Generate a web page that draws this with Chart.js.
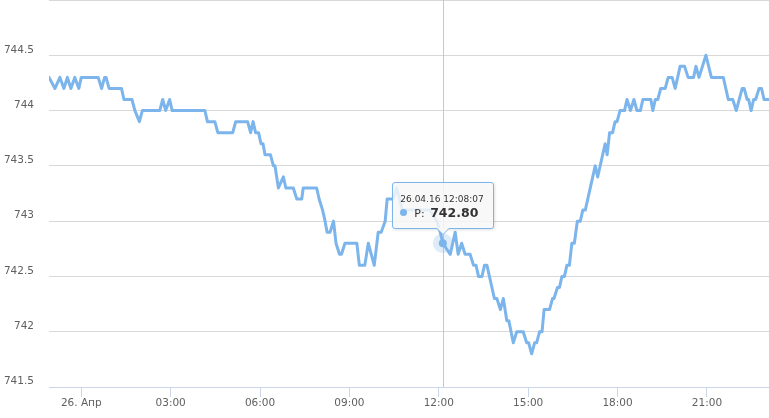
<!DOCTYPE html>
<html>
<head>
<meta charset="utf-8">
<script src="https://cdn.jsdelivr.net/npm/chart.js@4.4.1/dist/chart.umd.min.js"></script>
<style>
    html, body { margin: 0; padding: 0; background: #fff; }
    #wrap { position: relative; width: 769px; height: 418px; font-family: 'DejaVu Sans', sans-serif; }
    #tip {
        position: absolute;
        display: none;
        box-sizing: border-box;
        background: rgba(247, 247, 247, 0.85);
        border: 1px solid #7cb5ec;
        border-radius: 3px;
        padding: 10px 9px 6px 7px;
        box-shadow: 1px 1px 3px rgba(0, 0, 0, 0.12);
        color: #333;
        white-space: nowrap;
        pointer-events: none;
    }
    #tip::before {
        content: '';
        position: absolute;
        left: 50%;
        top: 100%;
        margin-left: -7px;
        border: 7px solid transparent;
        border-top-color: #7cb5ec;
        border-bottom: 0;
    }
    #tip::after {
        content: '';
        position: absolute;
        left: 50%;
        top: 100%;
        margin-left: -6px;
        border: 6px solid transparent;
        border-top-color: #f7f7f7;
        border-bottom: 0;
    }
    .tip-title { font-size: 9px; line-height: 12px; }
    .tip-body { font-size: 11px; line-height: 16px; }
    .tip-dot { display: inline-block; width: 7px; height: 7px; border-radius: 50%; background: #7cb5ec; margin-right: 7px; vertical-align: 1px; }
    .tip-value { font-weight: bold; font-size: 12.5px; margin-left: 2px; }
</style>
</head>
<body>
<div id="wrap">
    <canvas id="pressure-chart"></canvas>
    <div id="tip">
        <div class="tip-title"></div>
        <div class="tip-body"><span class="tip-dot"></span>P: <span class="tip-value"></span></div>
    </div>
</div>
<script>
// minutes from 26.04.16 00:00 (negative = evening of 25.04)
const times = [
    -65, -53, -43, -35, -28, -21, -13, -5, 0, 34, 41, 47, 50, 56, 81, 86, 102, 108, 117, 123,
    158, 164, 170, 178, 183, 249, 254, 269, 275, 305, 311, 335, 341, 346, 351, 357, 362, 366, 370, 381,
    387, 390, 397, 407, 412, 427, 434, 444, 447, 474, 479, 486, 491, 495, 501, 508, 513, 520, 524, 531,
    555, 560, 571, 578, 590, 598, 604, 612, 616, 628, 635, 641, 646, 702, 716, 723, 728.12, 743, 753, 759,
    766, 773, 783, 790, 795, 800, 807, 812, 817, 832, 837, 844, 850, 857, 861, 870, 877, 890, 897, 901,
    907, 913, 917, 923, 928, 932, 943, 949, 952, 959, 963, 968, 973, 978, 983, 988, 993, 999, 1005, 1010,
    1015, 1035, 1040, 1055, 1059, 1064, 1070, 1075, 1079, 1085, 1094, 1099, 1106, 1113, 1119, 1126, 1131, 1147, 1151, 1156,
    1161, 1167, 1176, 1182, 1190, 1196, 1206, 1215, 1222, 1233, 1238, 1244, 1258, 1269, 1293, 1303, 1312, 1319, 1331, 1335,
    1341, 1344, 1349, 1354, 1358, 1365, 1370, 1375, 1385,
];
const pressure = [
    744.3, 744.2, 744.3, 744.2, 744.3, 744.2, 744.3, 744.2, 744.3, 744.3, 744.2, 744.3, 744.3, 744.2, 744.2, 744.1, 744.1, 744.0, 743.9, 744.0,
    744.0, 744.1, 744.0, 744.1, 744.0, 744.0, 743.9, 743.9, 743.8, 743.8, 743.9, 743.9, 743.8, 743.9, 743.8, 743.8, 743.7, 743.7, 743.6, 743.6,
    743.5, 743.5, 743.3, 743.4, 743.3, 743.3, 743.2, 743.2, 743.3, 743.3, 743.2, 743.1, 743.0, 742.9, 742.9, 743.0, 742.8, 742.7, 742.7, 742.8,
    742.8, 742.6, 742.6, 742.8, 742.6, 742.9, 742.9, 743.0, 743.2, 743.2, 743.3, 743.2, 743.1, 743.1, 743.0, 742.9, 742.8, 742.7, 742.9, 742.7,
    742.8, 742.7, 742.7, 742.6, 742.6, 742.5, 742.5, 742.6, 742.6, 742.3, 742.3, 742.2, 742.3, 742.1, 742.1, 741.9, 742.0, 742.0, 741.9, 741.9,
    741.8, 741.9, 741.9, 742.0, 742.0, 742.2, 742.2, 742.3, 742.3, 742.4, 742.4, 742.5, 742.5, 742.6, 742.6, 742.8, 742.8, 743.0, 743.0, 743.1,
    743.1, 743.5, 743.4, 743.7, 743.6, 743.8, 743.8, 743.9, 743.9, 744.0, 744.0, 744.1, 744.0, 744.1, 744.0, 744.0, 744.1, 744.1, 744.0, 744.1,
    744.1, 744.2, 744.2, 744.3, 744.3, 744.2, 744.4, 744.4, 744.3, 744.3, 744.4, 744.3, 744.5, 744.3, 744.3, 744.1, 744.1, 744.0, 744.2, 744.2,
    744.1, 744.1, 744.0, 744.1, 744.1, 744.2, 744.2, 744.1, 744.1,
];
const tickTimes = [0, 180, 360, 540, 720, 900, 1080, 1260];
const tickLabels = ['26. Апр', '03:00', '06:00', '09:00', '12:00', '15:00', '18:00', '21:00'];
const yTicks = [741.5, 742, 742.5, 743, 743.5, 744, 744.5, 745];
const seriesName = 'P';
const hoverTime = 728.12;

$ready();

function $ready() {
    const vPoints = times.map((t, i) => ({ x: t, y: pressure[i] }));

    // vertical crosshair under the line
    const crosshair = {
        id: 'crosshair',
        beforeDatasetsDraw(chart) {
            const act = chart.getActiveElements();
            if (!act.length) return;
            const ctx = chart.ctx;
            const x = Math.round(act[0].element.x) + 0.5;
            ctx.save();
            ctx.strokeStyle = '#c8c8c8';
            ctx.lineWidth = 1;
            ctx.beginPath();
            ctx.moveTo(x, chart.chartArea.top);
            ctx.lineTo(x, chart.chartArea.bottom);
            ctx.stroke();
            ctx.restore();
        },
    };

    // no extra padding around the plot
    function noPadding(scale) {
        scale.paddingTop = 0;
        scale.paddingBottom = 0;
        scale.paddingLeft = 0;
        scale.paddingRight = 0;
    }

    const chart = new Chart(document.getElementById('pressure-chart'), {
        type: 'line',
        data: {
            datasets: [
                {
                    label: seriesName,
                    data: vPoints,
                    borderColor: '#7cb5ec',
                    backgroundColor: '#7cb5ec',
                    borderWidth: 3,
                    borderJoinStyle: 'round',
                    borderCapStyle: 'round',
                    tension: 0,
                    pointRadius: 0,
                    pointHoverRadius: 4,
                    pointHoverBackgroundColor: '#7cb5ec',
                    pointHoverBorderColor: 'rgba(124,181,236,0.25)',
                    pointHoverBorderWidth: 12,
                },
            ],
        },
        options: {
            responsive: true,
            maintainAspectRatio: false,
            animation: false,
            events: [],
            layout: { autoPadding: false, padding: 0 },
            plugins: {
                legend: { display: false },
                tooltip: { enabled: false, external: externalTooltip },
            },
            scales: {
                x: {
                    type: 'linear',
                    min: times[0],
                    max: times[times.length - 1],
                    afterBuildTicks: (scale) => { scale.ticks = tickTimes.map((v) => ({ value: v })); },
                    afterFit: (scale) => { scale.height = 31; noPadding(scale); },
                    border: { display: true, color: '#ccd6eb', width: 1 },
                    grid: { drawOnChartArea: false, drawTicks: true, tickLength: 10, color: '#ccd6eb' },
                    ticks: {
                        padding: 0,
                        maxRotation: 0,
                        autoSkip: false,
                        color: '#606060',
                        font: { family: 'DejaVu Sans', size: 10.5 },
                        callback: (v) => tickLabels[tickTimes.indexOf(v)],
                    },
                },
                y: {
                    min: yTicks[0],
                    max: yTicks[yTicks.length - 1],
                    afterBuildTicks: (scale) => { scale.ticks = yTicks.map((v) => ({ value: v })); },
                    afterFit: (scale) => { scale.width = 49; noPadding(scale); },
                    border: { display: false },
                    grid: { color: '#d8d8d8', drawTicks: false },
                    ticks: {
                        padding: 15,
                        labelOffset: -5.5,
                        color: '#606060',
                        font: { family: 'DejaVu Sans', size: 10.5 },
                        callback: (v) => (v === yTicks[yTicks.length - 1] ? '' : String(v)),
                    },
                },
            },
        },
        plugins: [crosshair],
    });

    // show hovered point like in the original screenshot
    const vIndex = times.indexOf(hoverTime);
    chart.setActiveElements([{ datasetIndex: 0, index: vIndex }]);
    chart.update();
    const vEl = chart.getDatasetMeta(0).data[vIndex];
    chart.tooltip.setActiveElements([{ datasetIndex: 0, index: vIndex }], { x: vEl.x, y: vEl.y });
}

function pad2(n) {
    return (n < 10 ? '0' : '') + n;
}

function formatStamp(minutes) {
    let vSec = Math.round(minutes * 60);
    let vDay = 26;
    if (vSec < 0) {
        vSec += 24 * 3600;
        vDay = 25;
    }
    const h = Math.floor(vSec / 3600);
    const m = Math.floor((vSec % 3600) / 60);
    const s = vSec % 60;
    return pad2(vDay) + '.04.16 ' + pad2(h) + ':' + pad2(m) + ':' + pad2(s);
}

function externalTooltip(context) {
    const tooltip = context.tooltip;
    const el = document.getElementById('tip');
    if (tooltip.opacity === 0 || !tooltip.dataPoints || !tooltip.dataPoints.length) {
        el.style.display = 'none';
        return;
    }
    const dp = tooltip.dataPoints[0];
    el.querySelector('.tip-title').textContent = formatStamp(dp.parsed.x);
    el.querySelector('.tip-value').textContent = dp.parsed.y.toFixed(2);
    el.style.display = 'block';
    el.style.left = tooltip.caretX - el.offsetWidth / 2 + 'px';
    el.style.top = tooltip.caretY - el.offsetHeight - 14 + 'px';
}
</script>
</body>
</html>
